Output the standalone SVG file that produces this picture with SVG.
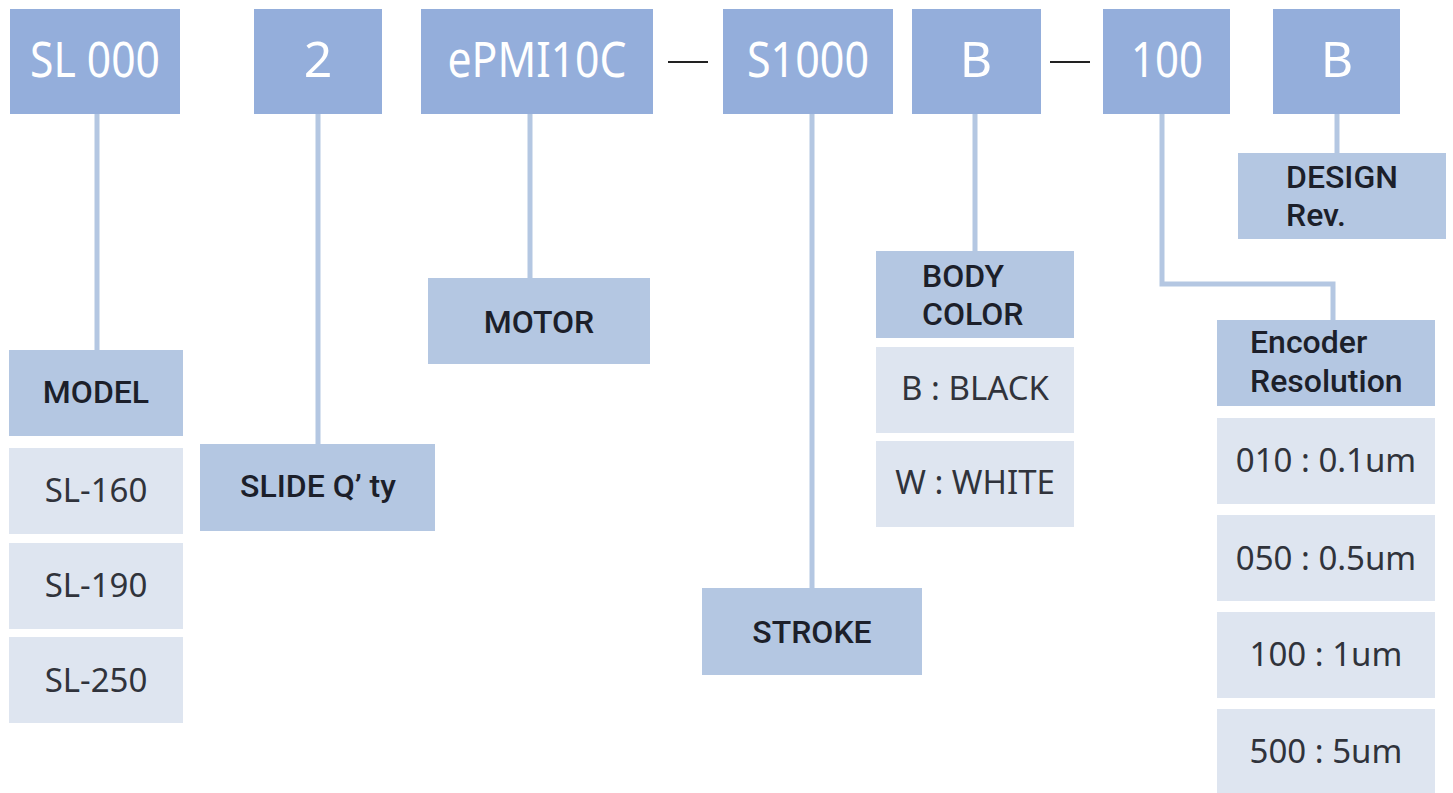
<svg xmlns="http://www.w3.org/2000/svg" width="1453" height="793" viewBox="0 0 1453 793">
<style>
.top{fill:#94aedb}
.hdr{fill:#b4c7e2}
.opt{fill:#dee5f0}
.tt{font-family:"Noto Sans","Open Sans",sans-serif;font-size:50px;fill:#ffffff;text-anchor:middle}
.ht{font-family:Roboto,"Noto Sans",sans-serif;font-size:32px;font-weight:500;fill:#1c1f2a;text-anchor:middle}
.hl{font-family:Roboto,"Noto Sans",sans-serif;font-size:32px;font-weight:500;fill:#1c1f2a}
.ot{font-family:"Noto Sans","Open Sans",sans-serif;font-size:33px;fill:#30333b;text-anchor:middle}
.con{fill:none;stroke:#b4c7e2;stroke-width:5}
.dash{stroke:#222;stroke-width:2}
</style>
<rect width="1453" height="793" fill="#ffffff"/>
<g id="connectors">
<line class="con" x1="97" y1="114" x2="97" y2="350"/>
<line class="con" x1="318" y1="114" x2="318" y2="444"/>
<line class="con" x1="530" y1="114" x2="530" y2="278"/>
<line class="con" x1="812" y1="114" x2="812" y2="588"/>
<line class="con" x1="975" y1="114" x2="975" y2="251"/>
<polyline class="con" points="1162,114 1162,284 1333,284 1333,320"/>
<line class="con" x1="1337" y1="114" x2="1337" y2="153"/>
<line class="dash" x1="668" y1="62" x2="708" y2="62"/>
<line class="dash" x1="1050" y1="62" x2="1090" y2="62"/>
</g>
<g id="code-sl000"><rect class="top" x="10" y="9" width="170" height="105"/><text class="tt" x="95" y="77" textLength="130" lengthAdjust="spacingAndGlyphs">SL 000</text></g>
<g id="code-2"><rect class="top" x="254" y="9" width="128" height="105"/><text class="tt" x="318" y="77">2</text></g>
<g id="code-motor"><rect class="top" x="421" y="9" width="232" height="105"/><text class="tt" x="537" y="77" textLength="179" lengthAdjust="spacingAndGlyphs">ePMI10C</text></g>
<g id="code-stroke"><rect class="top" x="723" y="9" width="170" height="105"/><text class="tt" x="808" y="77" textLength="122" lengthAdjust="spacingAndGlyphs">S1000</text></g>
<g id="code-color"><rect class="top" x="912" y="9" width="129" height="105"/><text class="tt" x="976" y="77">B</text></g>
<g id="code-encoder"><rect class="top" x="1103" y="9" width="127" height="105"/><text class="tt" x="1167" y="77" textLength="72" lengthAdjust="spacingAndGlyphs">100</text></g>
<g id="code-design"><rect class="top" x="1273" y="9" width="127" height="105"/><text class="tt" x="1337" y="77">B</text></g>

<g id="model"><rect class="hdr" x="9" y="350" width="174" height="86"/><text class="ht" x="96" y="403">MODEL</text></g>
<g id="sl160"><rect class="opt" x="9" y="448" width="174" height="86"/><text class="ot" x="96" y="502">SL-160</text></g>
<g id="sl190"><rect class="opt" x="9" y="543" width="174" height="86"/><text class="ot" x="96" y="597">SL-190</text></g>
<g id="sl250"><rect class="opt" x="9" y="637" width="174" height="86"/><text class="ot" x="96" y="692">SL-250</text></g>

<g id="slide"><rect class="hdr" x="200" y="444" width="235" height="87"/><text class="ht" x="318" y="497">SLIDE Q’ ty</text></g>
<g id="motor"><rect class="hdr" x="428" y="278" width="222" height="86"/><text class="ht" x="539" y="333">MOTOR</text></g>
<g id="stroke"><rect class="hdr" x="702" y="588" width="220" height="87"/><text class="ht" x="812" y="643">STROKE</text></g>

<g id="body-color"><rect class="hdr" x="876" y="251" width="198" height="87"/><text class="hl" x="922" y="287">BODY</text><text class="hl" x="922" y="325">COLOR</text></g>
<g id="black"><rect class="opt" x="876" y="347" width="198" height="86"/><text class="ot" x="975" y="400">B : BLACK</text></g>
<g id="white"><rect class="opt" x="876" y="441" width="198" height="86"/><text class="ot" x="975" y="494">W : WHITE</text></g>

<g id="design-rev"><rect class="hdr" x="1238" y="153" width="208" height="86"/><text class="hl" x="1286" y="188">DESIGN</text><text class="hl" x="1286" y="226">Rev.</text></g>

<g id="encoder-res"><rect class="hdr" x="1217" y="320" width="218" height="86"/><text class="hl" x="1250" y="353">Encoder</text><text class="hl" x="1250" y="392">Resolution</text></g>
<g id="enc010"><rect class="opt" x="1217" y="418" width="218" height="86"/><text class="ot" x="1326" y="472">010 : 0.1um</text></g>
<g id="enc050"><rect class="opt" x="1217" y="515" width="218" height="86"/><text class="ot" x="1326" y="570">050 : 0.5um</text></g>
<g id="enc100"><rect class="opt" x="1217" y="612" width="218" height="86"/><text class="ot" x="1326" y="666">100 : 1um</text></g>
<g id="enc500"><rect class="opt" x="1217" y="709" width="218" height="86"/><text class="ot" x="1326" y="763">500 : 5um</text></g>
</svg>
